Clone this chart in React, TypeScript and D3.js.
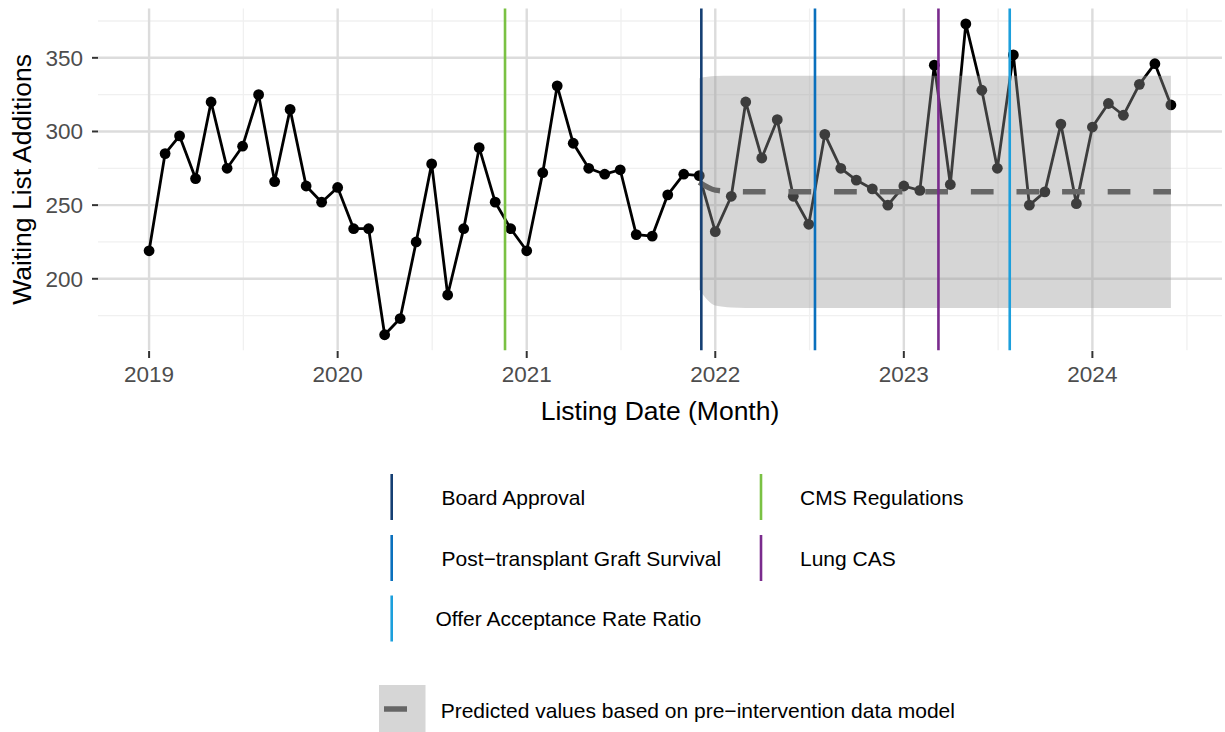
import React from "react";
import * as d3 from "d3";

// ---------- data ----------
const firstMonth = "2019-01-01";
const lastMonthExclusive = "2024-07-01";
const additions = [
  219, 285, 297, 268, 320, 275, 290, 325, 266, 315, 263, 252,
  262, 234, 234, 162, 173, 225, 278, 189, 234, 289, 252, 234,
  219, 272, 331, 292, 275, 271, 274, 230, 229, 257, 271, 270,
  232, 256, 320, 282, 308, 256, 237, 298, 275, 267, 261, 250,
  263, 260, 345, 264, 373, 328, 275, 352, 250, 259, 305, 251,
  303, 319, 311, 332, 346, 318,
];

const predStartMonth = "2021-12-01";
const predicted = [
  265.5, 260.2, 259.3, 259.1, 259, 259, 259, 259, 259, 259, 259, 259, 259,
  259, 259, 259, 259, 259, 259, 259, 259, 259, 259, 259, 259,
  259, 259, 259, 259, 259, 259,
];
const predUpper = [
  336.2, 337.6, 337.8, 337.8, 337.8, 337.8, 337.8, 337.8, 337.8, 337.8, 337.8, 337.8, 337.8,
  337.8, 337.8, 337.8, 337.8, 337.8, 337.8, 337.8, 337.8, 337.8, 337.8, 337.8, 337.8,
  337.8, 337.8, 337.8, 337.8, 337.8, 337.8,
];
const predLower = [
  192.5, 181.8, 180.5, 180.2, 180.2, 180.2, 180.2, 180.2, 180.2, 180.2, 180.2, 180.2, 180.2,
  180.2, 180.2, 180.2, 180.2, 180.2, 180.2, 180.2, 180.2, 180.2, 180.2, 180.2, 180.2,
  180.2, 180.2, 180.2, 180.2, 180.2, 180.2,
];

const interventionNames = [
  "Board Approval",
  "CMS Regulations",
  "Post\u2212transplant Graft Survival",
  "Lung CAS",
  "Offer Acceptance Rate Ratio",
];
const interventionDates = ["2021-12-05", "2020-11-20", "2022-07-13", "2023-03-09", "2023-07-25"];
const interventionColors = ["#153f73", "#7ac143", "#0a70bd", "#7a2b8d", "#1c9fdc"];

const yTickValues = [200, 250, 300, 350];
const xTickYears = ["2019", "2020", "2021", "2022", "2023", "2024"];

const predLabel = "Predicted values based on pre\u2212intervention data model";
const xTitle = "Listing Date (Month)";
const yTitle = "Waiting List Additions";

// ---------- layout ----------
const W = 1225;
const H = 732;
const P = { left: 98, right: 1222, top: 8.4, bottom: 350.3 };
const FONT = '"Liberation Sans", Arial, Helvetica, sans-serif';

const parse = (s: string) => new Date(s + "T00:00:00Z");

export default function App() {
  const months = d3.utcMonth.range(parse(firstMonth), parse(lastMonthExclusive));
  const predMonths = d3.utcMonth.range(parse(predStartMonth), parse(lastMonthExclusive));

  const xExt = d3.extent(months) as [Date, Date];
  const xSpan = +xExt[1] - +xExt[0];
  const x = d3
    .scaleUtc()
    .domain([new Date(+xExt[0] - 0.05 * xSpan), new Date(+xExt[1] + 0.05 * xSpan)])
    .range([P.left, P.right]);

  const yMin = d3.min([...additions, ...predLower])!;
  const yMax = d3.max([...additions, ...predUpper])!;
  const ySpan = yMax - yMin;
  const y = d3
    .scaleLinear()
    .domain([yMin - 0.05 * ySpan, yMax + 0.05 * ySpan])
    .range([P.bottom, P.top]);

  const pts = months.map((d, i) => ({ d, v: additions[i] }));
  const line = d3
    .line<{ d: Date; v: number }>()
    .x((p) => x(p.d))
    .y((p) => y(p.v));

  const predPts = predMonths.map((d, i) => ({ d, v: predicted[i], lo: predLower[i], hi: predUpper[i] }));
  const area = d3
    .area<{ d: Date; lo: number; hi: number }>()
    .x((p) => x(p.d))
    .y0((p) => y(p.lo))
    .y1((p) => y(p.hi))
    .curve(d3.curveMonotoneX);
  const predLine = d3
    .line<{ d: Date; v: number }>()
    .x((p) => x(p.d))
    .y((p) => y(p.v))
    .curve(d3.curveMonotoneX);

  const yDom = y.domain();
  const yMinor = [...yTickValues.map((v) => v - 25), yTickValues[yTickValues.length - 1] + 25].filter(
    (v) => v >= yDom[0] && v <= yDom[1]
  );
  const xMajor = xTickYears.map((yr) => parse(yr + "-01-01"));
  const xMinor = xMajor
    .map((d) => new Date((+d + +d3.utcYear.offset(d, 1)) / 2))
    .filter((d) => x(d) >= P.left && x(d) <= P.right);

  const ribbonFill = "#999999";
  const ribbonOpacity = 0.4;

  // legend layout
  const legCols = [391.7, 761];
  const legTextX = [441.5, 800];
  const legRowsY = [497, 558, 618.5];
  const legendOrder = [
    { idx: 0, col: 0, row: 0 },
    { idx: 2, col: 0, row: 1 },
    { idx: 4, col: 0, row: 2 },
    { idx: 1, col: 1, row: 0 },
    { idx: 3, col: 1, row: 1 },
  ];

  return (
    <svg
      width={W}
      height={H}
      style={{ position: "absolute", left: 0, top: 0, display: "block", fontFamily: FONT }}
    >
      <rect x={0} y={0} width={W} height={H} fill="#ffffff" />
      {/* grid */}
      <g>
        {yMinor.map((v) => (
          <line key={"ym" + v} x1={P.left} x2={P.right} y1={y(v)} y2={y(v)} stroke="#f0f0f0" strokeWidth={1.3} />
        ))}
        {xMinor.map((d, i) => (
          <line key={"xm" + i} x1={x(d)} x2={x(d)} y1={P.top} y2={P.bottom} stroke="#f0f0f0" strokeWidth={1.3} />
        ))}
        {yTickValues.map((v) => (
          <line key={"yM" + v} x1={P.left} x2={P.right} y1={y(v)} y2={y(v)} stroke="#dcdcdc" strokeWidth={2.4} />
        ))}
        {xMajor.map((d, i) => (
          <line key={"xM" + i} x1={x(d)} x2={x(d)} y1={P.top} y2={P.bottom} stroke="#dcdcdc" strokeWidth={2.4} />
        ))}
      </g>

      {/* data */}
      <path d={line(pts) || ""} fill="none" stroke="#000" strokeWidth={2.8} strokeLinejoin="round" />
      {pts.map((p, i) => (
        <circle key={"p" + i} cx={x(p.d)} cy={y(p.v)} r={5.4} fill="#000" />
      ))}

      {/* ribbon */}
      <path d={area(predPts) || ""} fill={ribbonFill} fillOpacity={ribbonOpacity} />
      <path
        d={predLine(predPts) || ""}
        fill="none"
        stroke="#666666"
        strokeWidth={5.5}
        strokeDasharray="22.7 22.9"
      />

      {/* intervention lines */}
      {interventionDates.map((s, i) => (
        <line
          key={"iv" + i}
          x1={x(parse(s))}
          x2={x(parse(s))}
          y1={P.top}
          y2={P.bottom}
          stroke={interventionColors[i]}
          strokeWidth={2.6}
        />
      ))}

      {/* axes ticks and labels */}
      {yTickValues.map((v) => (
        <g key={"yt" + v}>
          <line x1={92} x2={98} y1={y(v)} y2={y(v)} stroke="#333" strokeWidth={2} />
          <text x={83} y={y(v) + 8} textAnchor="end" fontSize={22.5} fill="#4d4d4d">
            {v}
          </text>
        </g>
      ))}
      {xMajor.map((d, i) => (
        <g key={"xt" + i}>
          <line x1={x(d)} x2={x(d)} y1={351} y2={358} stroke="#333" strokeWidth={2} />
          <text x={x(d)} y={382} textAnchor="middle" fontSize={22.5} fill="#4d4d4d">
            {xTickYears[i]}
          </text>
        </g>
      ))}
      <text x={(P.left + P.right) / 2} y={420} textAnchor="middle" fontSize={26.5} fill="#000">
        {xTitle}
      </text>
      <text
        transform={`translate(31,${(P.top + P.bottom) / 2}) rotate(-90)`}
        textAnchor="middle"
        fontSize={26.5}
        fill="#000"
      >
        {yTitle}
      </text>

      {/* legend: interventions */}
      {legendOrder.map((o) => (
        <g key={"lg" + o.idx}>
          <line
            x1={legCols[o.col]}
            x2={legCols[o.col]}
            y1={legRowsY[o.row] - 23}
            y2={legRowsY[o.row] + 23}
            stroke={interventionColors[o.idx]}
            strokeWidth={2.6}
          />
          <text
            x={legTextX[o.col] - (o.idx === 4 ? 6 : 0)}
            y={legRowsY[o.row] + 7.5}
            fontSize={21}
            fill="#000"
          >
            {interventionNames[o.idx]}
          </text>
        </g>
      ))}

      {/* legend: prediction */}
      <rect x={379} y={685} width={46.5} height={47} fill={ribbonFill} fillOpacity={ribbonOpacity} />
      <line x1={384} x2={407} y1={709} y2={709} stroke="#666666" strokeWidth={5.5} />
      <text x={440.7} y={717.5} fontSize={21} fill="#000">
        {predLabel}
      </text>
    </svg>
  );
}
